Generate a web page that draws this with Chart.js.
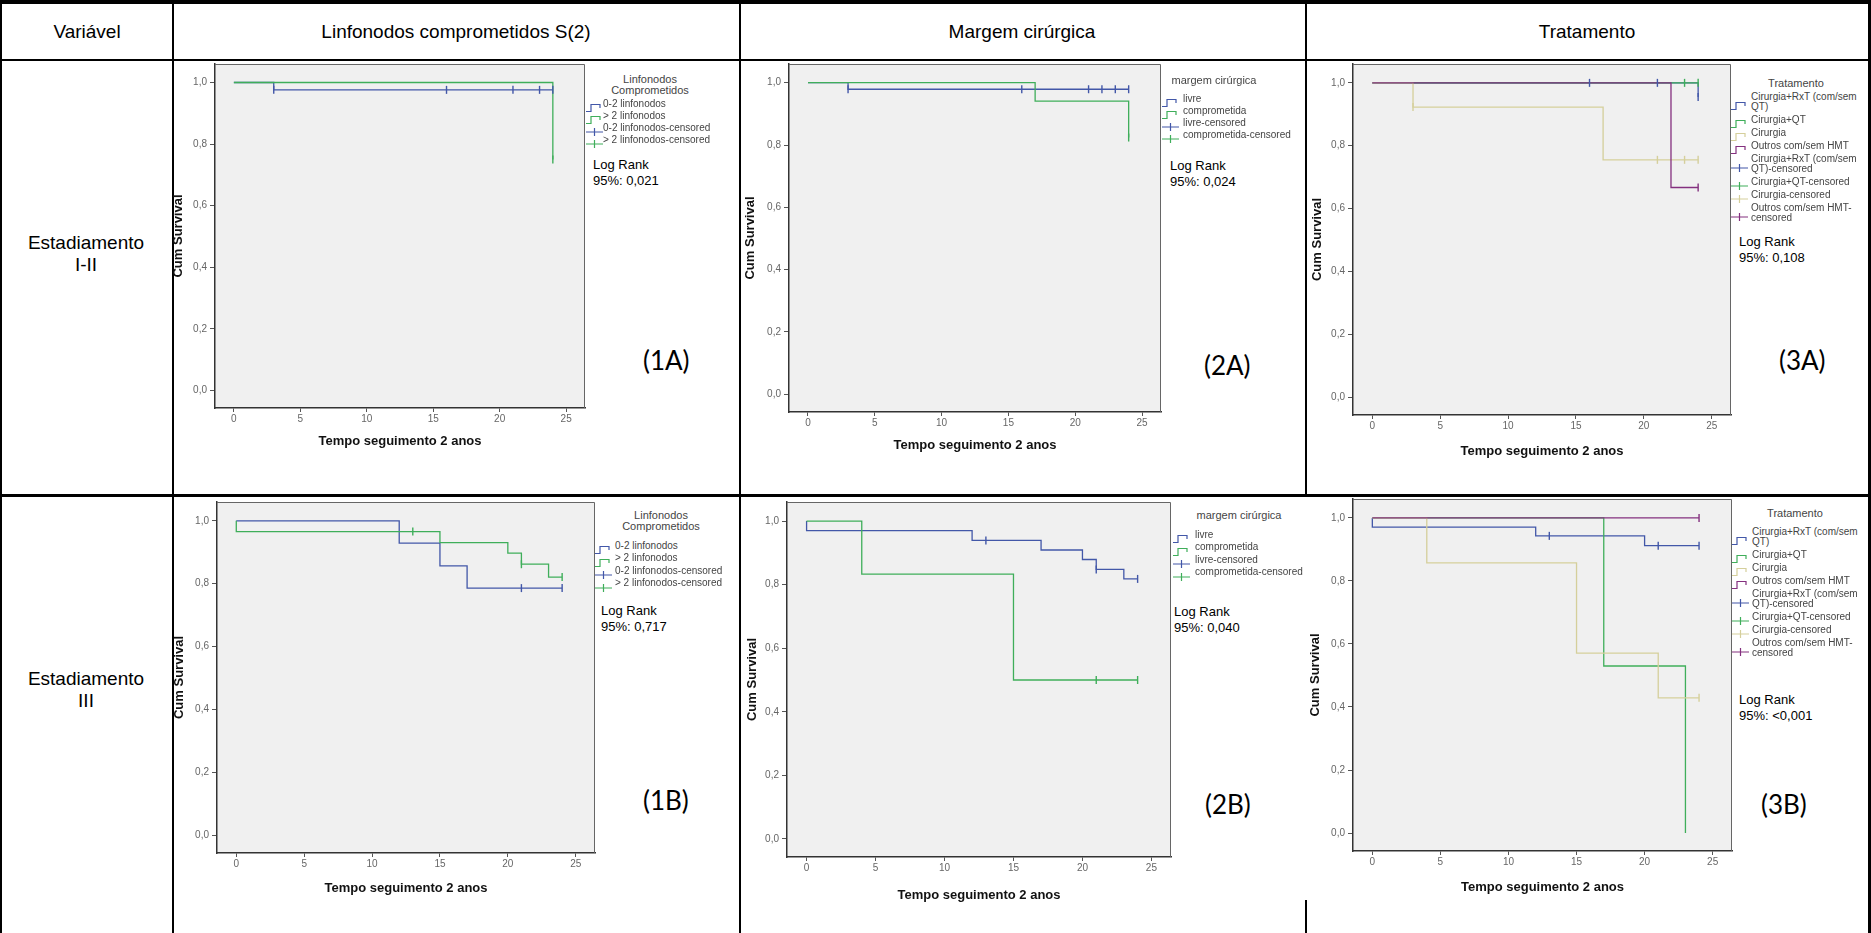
<!DOCTYPE html>
<html lang="pt"><head><meta charset="utf-8">
<script src="https://cdn.jsdelivr.net/npm/chart.js@4.4.1/dist/chart.umd.min.js"></script>
<style>
html,body{margin:0;padding:0;background:#fff;}
body{width:1871px;height:933px;position:relative;overflow:hidden;font-family:"Liberation Sans",Arial,sans-serif;}
.ln{position:absolute;background:#000;}
.c{position:absolute;white-space:nowrap;transform:translate(-50%,-50%);text-align:center;}
.hd{font-size:19px;line-height:22px;color:#000;}
.lr{position:absolute;font-size:13px;line-height:16px;color:#000;white-space:nowrap;}
.pl{position:absolute;font-family:Lato,"Open Sans",sans-serif;font-size:26px;line-height:30px;color:#000;white-space:nowrap;}
canvas{position:absolute;}
.lgt{position:absolute;font-size:11px;line-height:11px;color:#444;text-align:center;transform:translateX(-50%);white-space:nowrap;}
.lgi{position:absolute;font-size:10px;line-height:10.5px;color:#444;}
.ico{position:absolute;}
</style></head><body>
<!-- table lines -->
<div class="ln" style="left:0;top:0;width:1871px;height:4px"></div>
<div class="ln" style="left:0;top:0;width:2px;height:933px"></div>
<div class="ln" style="left:0;top:59px;width:1871px;height:2px"></div>
<div class="ln" style="left:0;top:494px;width:1871px;height:3px"></div>
<div class="ln" style="left:172px;top:0;width:2px;height:933px"></div>
<div class="ln" style="left:739px;top:0;width:2px;height:933px"></div>
<div class="ln" style="left:1305px;top:0;width:2px;height:497px"></div>
<div class="ln" style="left:1305px;top:900px;width:2px;height:33px"></div>
<div class="ln" style="left:1868px;top:0;width:3px;height:933px"></div>

<div class="c hd" style="left:87px;top:32px">Variável</div>
<div class="c hd" style="left:456px;top:32px">Linfonodos comprometidos S(2)</div>
<div class="c hd" style="left:1022px;top:32px">Margem cirúrgica</div>
<div class="c hd" style="left:1587px;top:32px">Tratamento</div>
<div class="c hd" style="left:86px;top:254px">Estadiamento<br>I-II</div>
<div class="c hd" style="left:86px;top:690px">Estadiamento<br>III</div>

<div class="lr" style="left:593px;top:157px">Log Rank<br>95%: 0,021</div>
<div class="lr" style="left:1170px;top:158px">Log Rank<br>95%: 0,024</div>
<div class="lr" style="left:1739px;top:234px">Log Rank<br>95%: 0,108</div>
<div class="lr" style="left:601px;top:603px">Log Rank<br>95%: 0,717</div>
<div class="lr" style="left:1174px;top:604px">Log Rank<br>95%: 0,040</div>
<div class="lr" style="left:1739px;top:692px">Log Rank<br>95%: &lt;0,001</div>

<div class="pl" style="left:643px;top:345px">(1A)</div>
<div class="pl" style="left:1204px;top:350px">(2A)</div>
<div class="pl" style="left:1779px;top:345px">(3A)</div>
<div class="pl" style="left:643px;top:785px">(1B)</div>
<div class="pl" style="left:1205px;top:789px">(2B)</div>
<div class="pl" style="left:1761px;top:789px">(3B)</div>

<script>
const timeTicks=[0,5,10,15,20,25];
const survTicks=[0,0.2,0.4,0.6,0.8,1.0];
const xTitleText='Tempo seguimento 2 anos';
const yTitleText='Cum Survival';

const linfTitle=['Linfonodos','Comprometidos'];
const linfGroups=['0-2 linfonodos','> 2 linfonodos'];
const margTitle=['margem cirúrgica'];
const margGroups=['livre','comprometida'];
const tratTitle=['Tratamento'];
const tratGroups=['Cirurgia+RxT (com/sem QT)','Cirurgia+QT','Cirurgia','Outros com/sem HMT'];
const censSuffix='-censored';

// (1A) Estadiamento I-II, linfonodos
const a1LowT=[0,3,24];
const a1LowS=[1,0.976,0.976];
const a1LowCensT=[3,16,21,23,24];
const a1LowCensS=[0.976,0.976,0.976,0.976,0.976];
const a1HighT=[0,24,24];
const a1HighS=[1,1,0.75];
const a1HighCensT=[24];
const a1HighCensS=[0.75];
// (2A) margem
const a2LivreT=[0,3,24];
const a2LivreS=[1,0.979,0.979];
const a2LivreCensT=[3,16,21,22,23,24];
const a2LivreCensS=[0.979,0.979,0.979,0.979,0.979,0.979];
const a2CompT=[0,17,24,24];
const a2CompS=[1,0.941,0.941,0.824];
const a2CompCensT=[24];
const a2CompCensS=[0.824];
// (3A) tratamento
const a3RxtT=[0,24,24];
const a3RxtS=[1,1,0.955];
const a3RxtCensT=[16,21,24];
const a3RxtCensS=[1,1,0.955];
const a3QtT=[0,24];
const a3QtS=[1,1];
const a3QtCensT=[23,24];
const a3QtCensS=[1,1];
const a3CirT=[0,3,17,24];
const a3CirS=[1,0.923,0.755,0.755];
const a3CirCensT=[3,21,23,24];
const a3CirCensS=[0.923,0.755,0.755,0.755];
const a3OutT=[0,22,24];
const a3OutS=[1,0.667,0.667];
const a3OutCensT=[24];
const a3OutCensS=[0.667];
// (1B) Estadiamento III, linfonodos
const b1LowT=[0,12,15,17,24];
const b1LowS=[1,0.929,0.857,0.786,0.786];
const b1LowCensT=[21,24];
const b1LowCensS=[0.786,0.786];
const b1HighT=[0,0,15,20,21,23,24];
const b1HighS=[1,0.966,0.931,0.897,0.862,0.821,0.821];
const b1HighCensT=[13,21,24];
const b1HighCensS=[0.966,0.862,0.821];
// (2B) margem
const b2LivreT=[0,0,12,17,20,21,23,24];
const b2LivreS=[1,0.970,0.939,0.909,0.879,0.848,0.818,0.818];
const b2LivreCensT=[13,21,24];
const b2LivreCensS=[0.939,0.848,0.818];
const b2CompT=[0,4,15,24];
const b2CompS=[1,0.833,0.5,0.5];
const b2CompCensT=[21,24];
const b2CompCensS=[0.5,0.5];
// (3B) tratamento
const b3RxtT=[0,0,12,20,24];
const b3RxtS=[1,0.971,0.943,0.912,0.912];
const b3RxtCensT=[13,21,24];
const b3RxtCensS=[0.943,0.912,0.912];
const b3QtT=[0,17,23];
const b3QtS=[1,0.53,0];
const b3QtCensT=[];
const b3QtCensS=[];
const b3CirT=[0,4,15,21,24];
const b3CirS=[1,0.857,0.571,0.429,0.429];
const b3CirCensT=[24];
const b3CirCensS=[0.429];
const b3OutT=[0,24];
const b3OutS=[1,1];
const b3OutCensT=[24];
const b3OutCensS=[1];

// styles
const BLUE='#4257a8', GREEN='#3fae5a', BEIGE='#d5cf9b', PURPLE='#84307f';
Chart.defaults.font.family='"Liberation Sans", Arial, sans-serif';

const framePlugin={id:'frame',
  beforeDraw(c){const a=c.chartArea,x=c.ctx;x.save();x.fillStyle='#f0f0f0';x.fillRect(a.left,a.top,a.right-a.left,a.bottom-a.top);x.restore();},
  beforeDatasetsDraw(c){const a=c.chartArea,x=c.ctx;x.save();x.strokeStyle='#666';x.lineWidth=1;x.beginPath();x.moveTo(a.left,a.top+0.5);x.lineTo(a.right-0.5,a.top+0.5);x.lineTo(a.right-0.5,a.bottom);x.stroke();x.restore();}
};

function mkChart(p){
  const left=Math.round(p.yT-8), top=p.T-20, right=p.R+20, bottom=Math.round(p.xT+8);
  const cv=document.createElement('canvas');
  cv.width=right-left; cv.height=bottom-top;
  cv.style.left=left+'px'; cv.style.top=top+'px';
  cv.style.width=(right-left)+'px'; cv.style.height=(bottom-top)+'px';
  document.body.appendChild(cv);
  const datasets=[];
  p.series.forEach((s,i)=>{
    datasets.push({data:s.t.map((x,k)=>({x:x,y:s.s[k]})),stepped:'before',borderColor:s.color,borderWidth:1.3,pointRadius:0,fill:false,order:-i});
  });
  p.series.forEach((s,i)=>{
    datasets.push({data:s.ct.map((x,k)=>({x:x,y:s.cs[k]})),showLine:false,pointStyle:'line',rotation:90,pointRadius:4,pointBorderWidth:1.4,borderColor:s.color,pointBorderColor:s.color,order:-10-i});
  });
  new Chart(cv,{type:'line',data:{datasets:datasets},plugins:[framePlugin],
    options:{responsive:false,animation:false,devicePixelRatio:1,events:[],
      layout:{padding:{left:0,top:20,right:20,bottom:0}},
      plugins:{legend:{display:false},tooltip:{enabled:false}},
      scales:{
        x:{type:'linear',min:-1.42,max:26.42,
          afterBuildTicks:s=>{s.ticks=timeTicks.map(v=>({value:v}));},
          ticks:{font:{size:10},color:'#666',padding:1,maxRotation:0,autoSkip:false},
          grid:{display:true,drawOnChartArea:false,drawTicks:true,tickLength:4,color:'#555'},
          border:{display:true,color:'#333',width:1.5},
          title:{display:true,text:xTitleText,font:{size:13,weight:'bold'},color:'#111',padding:0},
          afterFit:s=>{s.height=bottom-p.B;}},
        y:{type:'linear',min:-0.057,max:1.06,
          afterBuildTicks:s=>{s.ticks=survTicks.map(v=>({value:v}));},
          ticks:{font:{size:10},color:'#666',padding:3,callback:v=>Number(v).toFixed(1).replace('.',',')},
          grid:{display:true,drawOnChartArea:false,drawTicks:true,tickLength:5,color:'#555'},
          border:{display:true,color:'#333',width:1.5},
          title:{display:true,text:yTitleText,font:{size:13,weight:'bold'},color:'#111',padding:0},
          afterFit:s=>{s.width=p.L-left;}}
      }}});
}

function icon(kind,color){
  const d = kind==='line' ? 'M0 8.5H5V1.5H14V5' : 'M0 5H17M8.5 1V9';
  return '<svg width="17" height="10" viewBox="0 0 17 10"><path d="'+d+'" fill="none" stroke="'+color+'" stroke-width="1.2"/></svg>';
}
function mkLegend(g){
  g.title.forEach((t,i)=>{
    const d=document.createElement('div');d.className='lgt';
    d.style.left=g.titleX+'px';d.style.top=(g.titleY-5.5+i*11.5)+'px';d.textContent=t;document.body.appendChild(d);
  });
  const labels=g.groups.concat(g.groups.map(s=>s+censSuffix));
  let y=g.firstY-5.25;
  labels.forEach((lab,i)=>{
    const k=i<g.groups.length?'line':'cens';
    const col=g.colors[i%g.groups.length];
    const d=document.createElement('div');d.className='lgi';
    d.style.left=g.textX+'px';d.style.top=y+'px';d.style.width=g.w+'px';d.textContent=lab;
    document.body.appendChild(d);
    const h=d.offsetHeight;
    const ic=document.createElement('div');ic.className='ico';
    ic.style.left=g.iconX+'px';ic.style.top=(y+h/2-5)+'px';ic.innerHTML=icon(k,col);
    document.body.appendChild(ic);
    y+=h+g.gap;
  });
}

const panels=[
 {L:215,T:64,R:585,B:408,yT:179,xT:441,series:[
   {t:a1LowT,s:a1LowS,ct:a1LowCensT,cs:a1LowCensS,color:BLUE},
   {t:a1HighT,s:a1HighS,ct:a1HighCensT,cs:a1HighCensS,color:GREEN}]},
 {L:789,T:64,R:1161,B:412,yT:751,xT:445,series:[
   {t:a2LivreT,s:a2LivreS,ct:a2LivreCensT,cs:a2LivreCensS,color:BLUE},
   {t:a2CompT,s:a2CompS,ct:a2CompCensT,cs:a2CompCensS,color:GREEN}]},
 {L:1353,T:64,R:1731,B:415,yT:1318,xT:451,series:[
   {t:a3RxtT,s:a3RxtS,ct:a3RxtCensT,cs:a3RxtCensS,color:BLUE},
   {t:a3QtT,s:a3QtS,ct:a3QtCensT,cs:a3QtCensS,color:GREEN},
   {t:a3CirT,s:a3CirS,ct:a3CirCensT,cs:a3CirCensS,color:BEIGE},
   {t:a3OutT,s:a3OutS,ct:a3OutCensT,cs:a3OutCensS,color:PURPLE}]},
 {L:217,T:502,R:595,B:853,yT:180,xT:888,series:[
   {t:b1LowT,s:b1LowS,ct:b1LowCensT,cs:b1LowCensS,color:BLUE},
   {t:b1HighT,s:b1HighS,ct:b1HighCensT,cs:b1HighCensS,color:GREEN}]},
 {L:787,T:502,R:1171,B:857,yT:753,xT:895,series:[
   {t:b2LivreT,s:b2LivreS,ct:b2LivreCensT,cs:b2LivreCensS,color:BLUE},
   {t:b2CompT,s:b2CompS,ct:b2CompCensT,cs:b2CompCensS,color:GREEN}]},
 {L:1353,T:499,R:1732,B:851,yT:1316,xT:887,series:[
   {t:b3RxtT,s:b3RxtS,ct:b3RxtCensT,cs:b3RxtCensS,color:BLUE},
   {t:b3QtT,s:b3QtS,ct:b3QtCensT,cs:b3QtCensS,color:GREEN},
   {t:b3CirT,s:b3CirS,ct:b3CirCensT,cs:b3CirCensS,color:BEIGE},
   {t:b3OutT,s:b3OutS,ct:b3OutCensT,cs:b3OutCensS,color:PURPLE}]}
];
panels.forEach(mkChart);

const legends=[
 {title:linfTitle,groups:linfGroups,colors:[BLUE,GREEN],titleX:650,titleY:79,iconX:586,textX:603,firstY:104,w:130,gap:1},
 {title:margTitle,groups:margGroups,colors:[BLUE,GREEN],titleX:1214,titleY:80,iconX:1162,textX:1183,firstY:99,w:130,gap:1},
 {title:tratTitle,groups:tratGroups,colors:[BLUE,GREEN,BEIGE,PURPLE],titleX:1796,titleY:83,iconX:1731,textX:1751,firstY:97,w:112,gap:2},
 {title:linfTitle,groups:linfGroups,colors:[BLUE,GREEN],titleX:661,titleY:515,iconX:595,textX:615,firstY:546,w:130,gap:1.5},
 {title:margTitle,groups:margGroups,colors:[BLUE,GREEN],titleX:1239,titleY:515,iconX:1173,textX:1195,firstY:535,w:130,gap:1.5},
 {title:tratTitle,groups:tratGroups,colors:[BLUE,GREEN,BEIGE,PURPLE],titleX:1795,titleY:513,iconX:1732,textX:1752,firstY:532,w:112,gap:2}
];
legends.forEach(mkLegend);
</script>
</body></html>
